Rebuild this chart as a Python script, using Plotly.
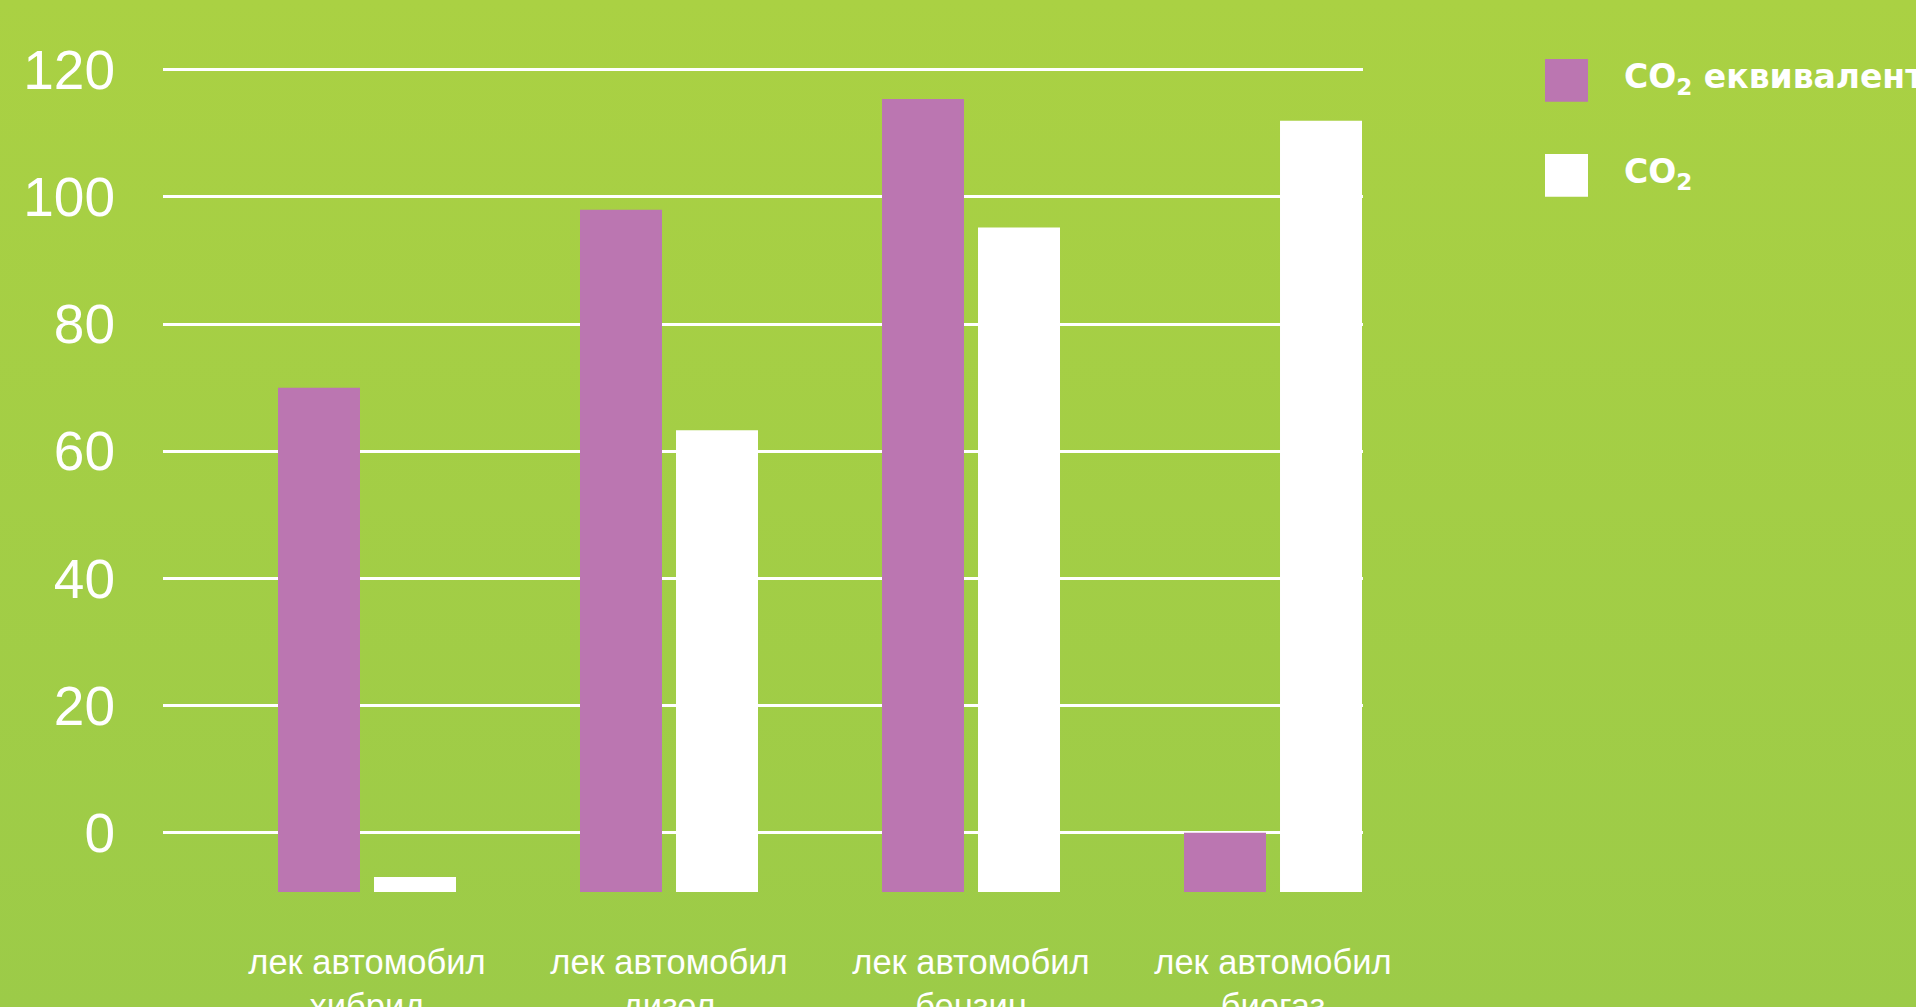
import base64
import plotly.graph_objects as go

# ---- data ----
categories = ["лек автомобил<br>хибрид", "лек автомобил<br>дизел",
              "лек автомобил<br>бензин", "лек автомобил<br>биогаз"]
series_names = ["CO<sub>2</sub> еквивалент", "CO<sub>2</sub>"]
co2_eq = [70, 98, 115.4, 0]
co2 = [-7, 63.3, 95.2, 112]
y_ticks = [0, 20, 40, 60, 80, 100, 120]
Y_MIN = -9.34
Y_MAX = 125

# ---- style ----
PURPLE = "#bb76b1"
WHITE = "#ffffff"
W, H = 1916, 1007
ML, MR, MT, MB = 163, 553, 38, 115
PW, PH = W - ML - MR, H - MT - MB

fig = go.Figure()
for name, vals, color, off in [(series_names[0], co2_eq, PURPLE, -0.2947),
                               (series_names[1], co2, WHITE, 0.0232)]:
    fig.add_trace(go.Bar(
        x=categories, y=[v - Y_MIN for v in vals], base=Y_MIN,
        name=name, marker=dict(color=color, line=dict(width=0)),
        width=0.2715, offset=off, showlegend=False,
        customdata=vals, hovertemplate="%{customdata}<extra></extra>"))

# background gradient
svg = ('<svg xmlns="http://www.w3.org/2000/svg" width="100" height="100" preserveAspectRatio="none">'
       '<defs><linearGradient id="g" x1="0" y1="0" x2="0" y2="1">'
       '<stop offset="0" stop-color="#aad143"/><stop offset="1" stop-color="#9ccb48"/>'
       '</linearGradient></defs><rect width="100" height="100" fill="url(#g)"/></svg>')
uri = "data:image/svg+xml;base64," + base64.b64encode(svg.encode()).decode()


def px_x(px):
    return (px - ML) / PW


def px_y(py):
    return (H - MB - py) / PH


fig.add_layout_image(dict(source=uri, xref="paper", yref="paper",
                          x=px_x(0), y=px_y(0), sizex=W / PW, sizey=H / PH,
                          sizing="stretch", layer="below", xanchor="left", yanchor="top"))

# manual legend (large square swatches)
legend_colors = [PURPLE, WHITE]
legend_rows = [(59, 101.7), (154, 196.7)]
for name, col, (y0, y1) in zip(series_names, legend_colors, legend_rows):
    fig.add_shape(type="rect", xref="paper", yref="paper",
                  x0=px_x(1545), x1=px_x(1588), y0=px_y(y1), y1=px_y(y0),
                  fillcolor=col, line=dict(width=0))
    fig.add_annotation(xref="paper", yref="paper", x=px_x(1622), y=px_y((y0 + y1) / 2 - 2),
                       xanchor="left", yanchor="middle", showarrow=False, text=name,
                       font=dict(family="DejaVu Sans", size=33, color=WHITE, weight="bold"))

fig.update_layout(
    width=W, height=H,
    margin=dict(l=ML, r=MR, t=MT, b=MB, pad=0, autoexpand=False),
    paper_bgcolor="#a4ce45", plot_bgcolor="rgba(0,0,0,0)",
    barmode="overlay", showlegend=False,
    xaxis=dict(type="category", range=[-0.6755, 3.298], showgrid=False, zeroline=False,
               showline=False, ticks="", ticklabelstandoff=46, automargin=False,
               tickfont=dict(family="Liberation Sans, Arial, sans-serif", size=34.5, color=WHITE)),
    yaxis=dict(range=[Y_MIN, Y_MAX], tickvals=y_ticks, showgrid=True, gridcolor=WHITE,
               gridwidth=2.7, zeroline=False, showline=False, ticks="", ticklabelstandoff=47,
               automargin=False,
               tickfont=dict(family="Liberation Sans, Arial, sans-serif", size=55, color=WHITE)),
)

fig.write_html("out.html", config={"displayModeBar": False},
               post_script="document.documentElement.lang='bg'; document.body.style.margin='0';")
